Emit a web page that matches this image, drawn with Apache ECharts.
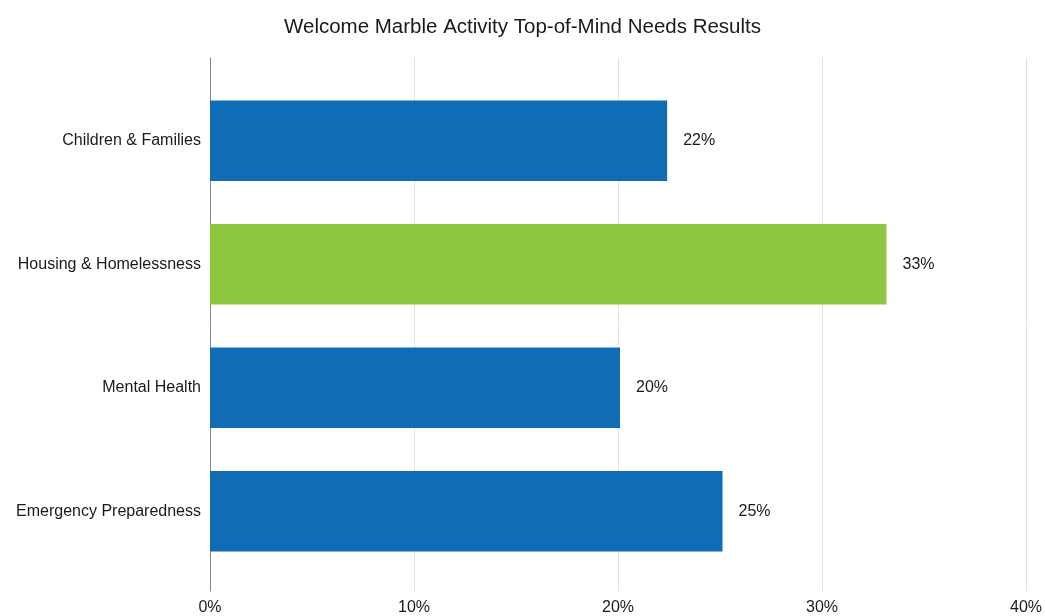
<!DOCTYPE html>
<html>
<head>
<meta charset="utf-8">
<script src="https://cdn.jsdelivr.net/npm/echarts@6/dist/echarts.min.js"></script>
<style>
  html, body { margin: 0; padding: 0; background: #fff; }
  #chart { width: 1045px; height: 616px; }
</style>
</head>
<body>
<div id="chart"></div>
<script>
const TITLE = "Welcome Marble Activity Top-of-Mind Needs Results";
const categories = ["Children & Families", "Housing & Homelessness", "Mental Health", "Emergency Preparedness"];
const values = [22.3, 33, 20, 25];
const barColors = ["#116cb6", "#8dc63f", "#116cb6", "#116cb6"];
const xTicks = [0, 10, 20, 30, 40];

const FONT = "Liberation Sans, Arial, sans-serif";

const chart = echarts.init(document.getElementById("chart"));

// grid 0 draws the axis frame + gridlines (taller), grid 1 holds the bars
chart.setOption({
  animation: false,
  title: {
    text: TITLE,
    left: "center",
    top: 12,
    textStyle: { fontFamily: FONT, fontSize: 20.5, fontWeight: "normal", color: "#1a1a1a" }
  },
  grid: [
    { left: 210, right: 15, top: 58, bottom: 23 },
    { left: 210, right: 15, top: 79, bottom: 43 }
  ],
  xAxis: [
    {
      gridIndex: 0,
      type: "value",
      min: xTicks[0],
      max: xTicks[xTicks.length - 1],
      interval: 10,
      axisLine: { show: false },
      axisTick: { show: false },
      splitLine: { lineStyle: { color: "#e2e2e2", width: 1 } },
      axisLabel: {
        margin: 9,
        fontFamily: FONT,
        fontSize: 16,
        color: "#1a1a1a",
        formatter: v => v + "%"
      }
    },
    {
      gridIndex: 1,
      type: "value",
      min: xTicks[0],
      max: xTicks[xTicks.length - 1],
      show: false
    }
  ],
  yAxis: [
    {
      gridIndex: 0,
      type: "category",
      data: [""],
      axisLine: { show: true, lineStyle: { color: "#888", width: 1 } },
      axisTick: { show: false },
      axisLabel: { show: false }
    },
    {
      gridIndex: 1,
      type: "category",
      inverse: true,
      data: categories,
      axisLine: { show: false },
      axisTick: { show: false },
      axisLabel: {
        margin: 9,
        fontFamily: FONT,
        fontSize: 16,
        color: "#1a1a1a"
      }
    }
  ],
  series: [
    {
      type: "bar",
      xAxisIndex: 1,
      yAxisIndex: 1,
      barCategoryGap: "35%",
      data: values.map((v, i) => ({ value: v, itemStyle: { color: barColors[i] } })),
      label: {
        show: true,
        position: "right",
        distance: 16,
        fontFamily: FONT,
        fontSize: 16,
        color: "#1a1a1a",
        formatter: p => Math.round(p.value) + "%"
      }
    }
  ]
});
</script>
</body>
</html>
